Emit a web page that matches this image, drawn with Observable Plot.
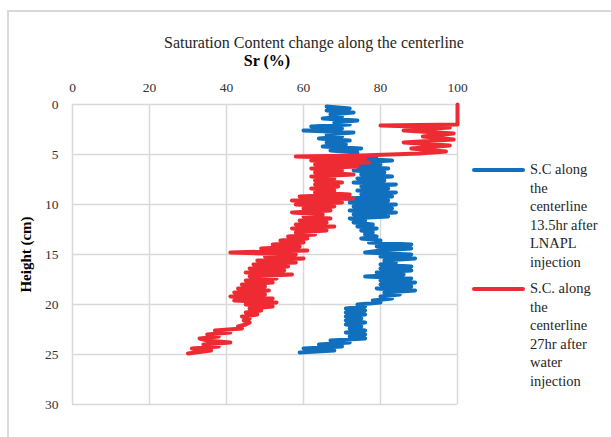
<!DOCTYPE html>
<html><head><meta charset="utf-8">
<script src="https://cdn.jsdelivr.net/npm/d3@7"></script>
<script src="https://cdn.jsdelivr.net/npm/@observablehq/plot@0.6"></script>
<style>
html,body{margin:0;padding:0;background:#fff;}
#wrap{position:relative;width:611px;height:437px;overflow:hidden;font-family:"Liberation Serif",serif;color:#262626;}
#border{position:absolute;left:7px;top:10px;width:800px;height:600px;border:2px solid #d9d9d9;box-sizing:border-box;}
#chart{position:absolute;left:0;top:0;}
.leg{position:absolute;left:472px;font-size:14.5px;line-height:18.6px;font-family:"Liberation Serif",serif;}
.leg .sw{position:absolute;left:0;width:53px;height:4px;border-radius:2px;}
.leg .tx{position:absolute;left:58px;white-space:nowrap;}
</style></head>
<body><div id="wrap"><div id="border"></div><div id="chart"></div>
<div id="legend"></div></div>
<script>
const title = "Saturation Content change along the centerline";
const xLabel = "Sr (%)";
const yLabel = "Height (cm)";
const xTicks = [0, 20, 40, 60, 80, 100];
const yTicks = [0, 5, 10, 15, 20, 25, 30];
const seriesNames = [
  ["S.C along", "the", "centerline", "13.5hr after", "LNAPL", "injection"],
  ["S.C. along", "the", "centerline", "27hr after", "water", "injection"]
];
const seriesColors = ["#1170bd", "#ee2a33"];

// Series 1: 13.5hr after LNAPL injection
const blueHeight = [0.2,0.4,0.6,0.8,1.0,1.2,1.4,1.6,1.8,2.0,2.2,2.4,2.6,2.8,3.0,3.2,3.4,3.6,3.8,4.0,4.2,4.4,4.6,4.8,5.0,5.2,5.4,5.6,5.8,6.0,6.2,6.4,6.6,6.8,7.0,7.2,7.4,7.6,7.8,8.0,8.2,8.4,8.6,8.8,9.0,9.2,9.4,9.6,9.8,10.0,10.2,10.4,10.6,10.8,11.0,11.2,11.4,11.6,11.8,12.0,12.2,12.4,12.6,12.8,13.0,13.2,13.4,13.6,13.8,14.0,14.2,14.4,14.6,14.8,15.0,15.2,15.4,15.6,15.8,16.0,16.2,16.4,16.6,16.8,17.0,17.2,17.4,17.6,17.8,18.0,18.2,18.4,18.6,18.8,19.0,19.2,19.4,19.6,19.8,20.0,20.2,20.4,20.6,20.8,21.0,21.2,21.4,21.6,21.8,22.0,22.2,22.4,22.6,22.8,23.0,23.2,23.4,23.6,23.8,24.0,24.2,24.4,24.6,24.8];
const blueSr = [66,72,66,73,67,70,65,74,68,72,62,70,60,73,66,70,64,72,66,71,65,75,67,74,70,79,72,83,73,80,74,82,73,81,75,83,74,81,73,84,75,82,74,84,75,83,71,82,72,84,73,83,72,84,73,82,72,76,73,78,74,79,75,78,76,79,75,80,77,88,79,88,80,76,88,80,89,81,84,80,88,80,88,79,86,76,88,80,89,80,88,79,89,81,85,80,83,78,80,74,76,71,76,71,76,71,75,71,76,71,75,72,76,71,76,72,76,67,72,64,70,60,68,59];

// Series 2: 27hr after water injection
const redHeight = [0,2.0,2.1,2.3,2.6,2.9,3.2,3.5,3.8,4.1,4.4,4.7,4.9,5.1,5.2,5.4,5.6,5.8,6.0,6.2,6.4,6.6,6.8,7.0,7.2,7.4,7.6,7.8,8.0,8.2,8.4,8.6,8.8,9.0,9.2,9.4,9.6,9.8,10.0,10.2,10.4,10.6,10.8,11.0,11.2,11.4,11.6,11.8,12.0,12.2,12.4,12.6,12.8,13.0,13.2,13.4,13.6,13.8,14.0,14.2,14.4,14.6,14.8,15.0,15.2,15.4,15.6,15.8,16.0,16.2,16.4,16.6,16.8,17.0,17.2,17.4,17.6,17.8,18.0,18.2,18.4,18.6,18.8,19.0,19.2,19.4,19.6,19.8,20.0,20.2,20.4,20.6,20.8,21.0,21.2,21.4,21.6,21.8,22.0,22.2,22.4,22.6,22.8,23.0,23.2,23.4,23.6,23.8,24.0,24.2,24.4,24.6,24.9];
const redSr = [100,100,80,98,86,99,91,99,86,98,88,97,90,75,58,76,62,77,63,74,62,70,63,73,62,68,63,70,63,69,62,68,63,72,59,73,57,70,58,68,60,67,57,65,60,67,59,66,58,68,57,66,58,63,56,61,54,60,52,59,49,61,41,58,50,60,48,58,47,56,46,55,45,57,46,53,45,52,44,50,43,51,42,50,41,52,42,53,45,52,46,49,45,48,44,46,44.5,46,45,43,44,37,41,35,38,33,35,41,34,38,31,36,30];

const blue = blueHeight.map((h, i) => ({h, v: blueSr[i]}));
const red = redHeight.map((h, i) => ({h, v: redSr[i]}));

const serif = "Liberation Serif, serif";
const chart = Plot.plot({
  width: 611, height: 437,
  marginLeft: 72, marginRight: 154, marginTop: 104, marginBottom: 33,
  style: {fontFamily: serif, background: "transparent"},
  x: {domain: [0, 100], axis: null},
  y: {domain: [0, 30], reverse: true, axis: null},
  marks: [
    Plot.gridX(xTicks, {stroke: "#d9d9d9", strokeOpacity: 1, strokeWidth: 1.5}),
    Plot.gridY(yTicks, {stroke: "#d9d9d9", strokeOpacity: 1, strokeWidth: 1.5}),
    Plot.text(xTicks, {x: d => d, frameAnchor: "top", dy: -17, lineAnchor: "middle", fontSize: 13.5, fontFamily: serif, fill: "#333"}),
    Plot.text(yTicks, {y: d => d, frameAnchor: "left", dx: -14, textAnchor: "end", lineAnchor: "middle", fontSize: 13.5, fontFamily: serif, fill: "#333"}),
    Plot.line(blue, {x: "v", y: "h", stroke: seriesColors[0], strokeWidth: 4, strokeLinejoin: "round", strokeLinecap: "round"}),
    Plot.line(red, {x: "v", y: "h", stroke: seriesColors[1], strokeWidth: 4, strokeLinejoin: "round", strokeLinecap: "round"}),
    Plot.text([title], {frameAnchor: "top", dx: 49, dy: -62, lineAnchor: "middle", fontSize: 16, fontFamily: serif, fill: "#262626"}),
    Plot.text([xLabel], {frameAnchor: "top", dx: 2, dy: -44, lineAnchor: "middle", fontSize: 16, fontWeight: "bold", fontFamily: serif, fill: "#000"}),
    Plot.text([yLabel], {frameAnchor: "left", dx: -46, rotate: -90, textAnchor: "middle", lineAnchor: "middle", fontSize: 15, fontWeight: "bold", fontFamily: serif, fill: "#000"})
  ]
});
document.getElementById("chart").appendChild(chart);

const legend = document.getElementById("legend");
const legTops = [160, 279];
seriesNames.forEach((lines, i) => {
  const d = document.createElement("div");
  d.className = "leg";
  d.style.top = legTops[i] + "px";
  const sw = document.createElement("div");
  sw.className = "sw";
  sw.style.background = seriesColors[i];
  sw.style.top = "7.5px";
  d.appendChild(sw);
  const tx = document.createElement("div");
  tx.className = "tx";
  tx.style.top = "0px";
  tx.innerHTML = lines.join("<br>");
  d.appendChild(tx);
  legend.appendChild(d);
});
</script></body></html>
